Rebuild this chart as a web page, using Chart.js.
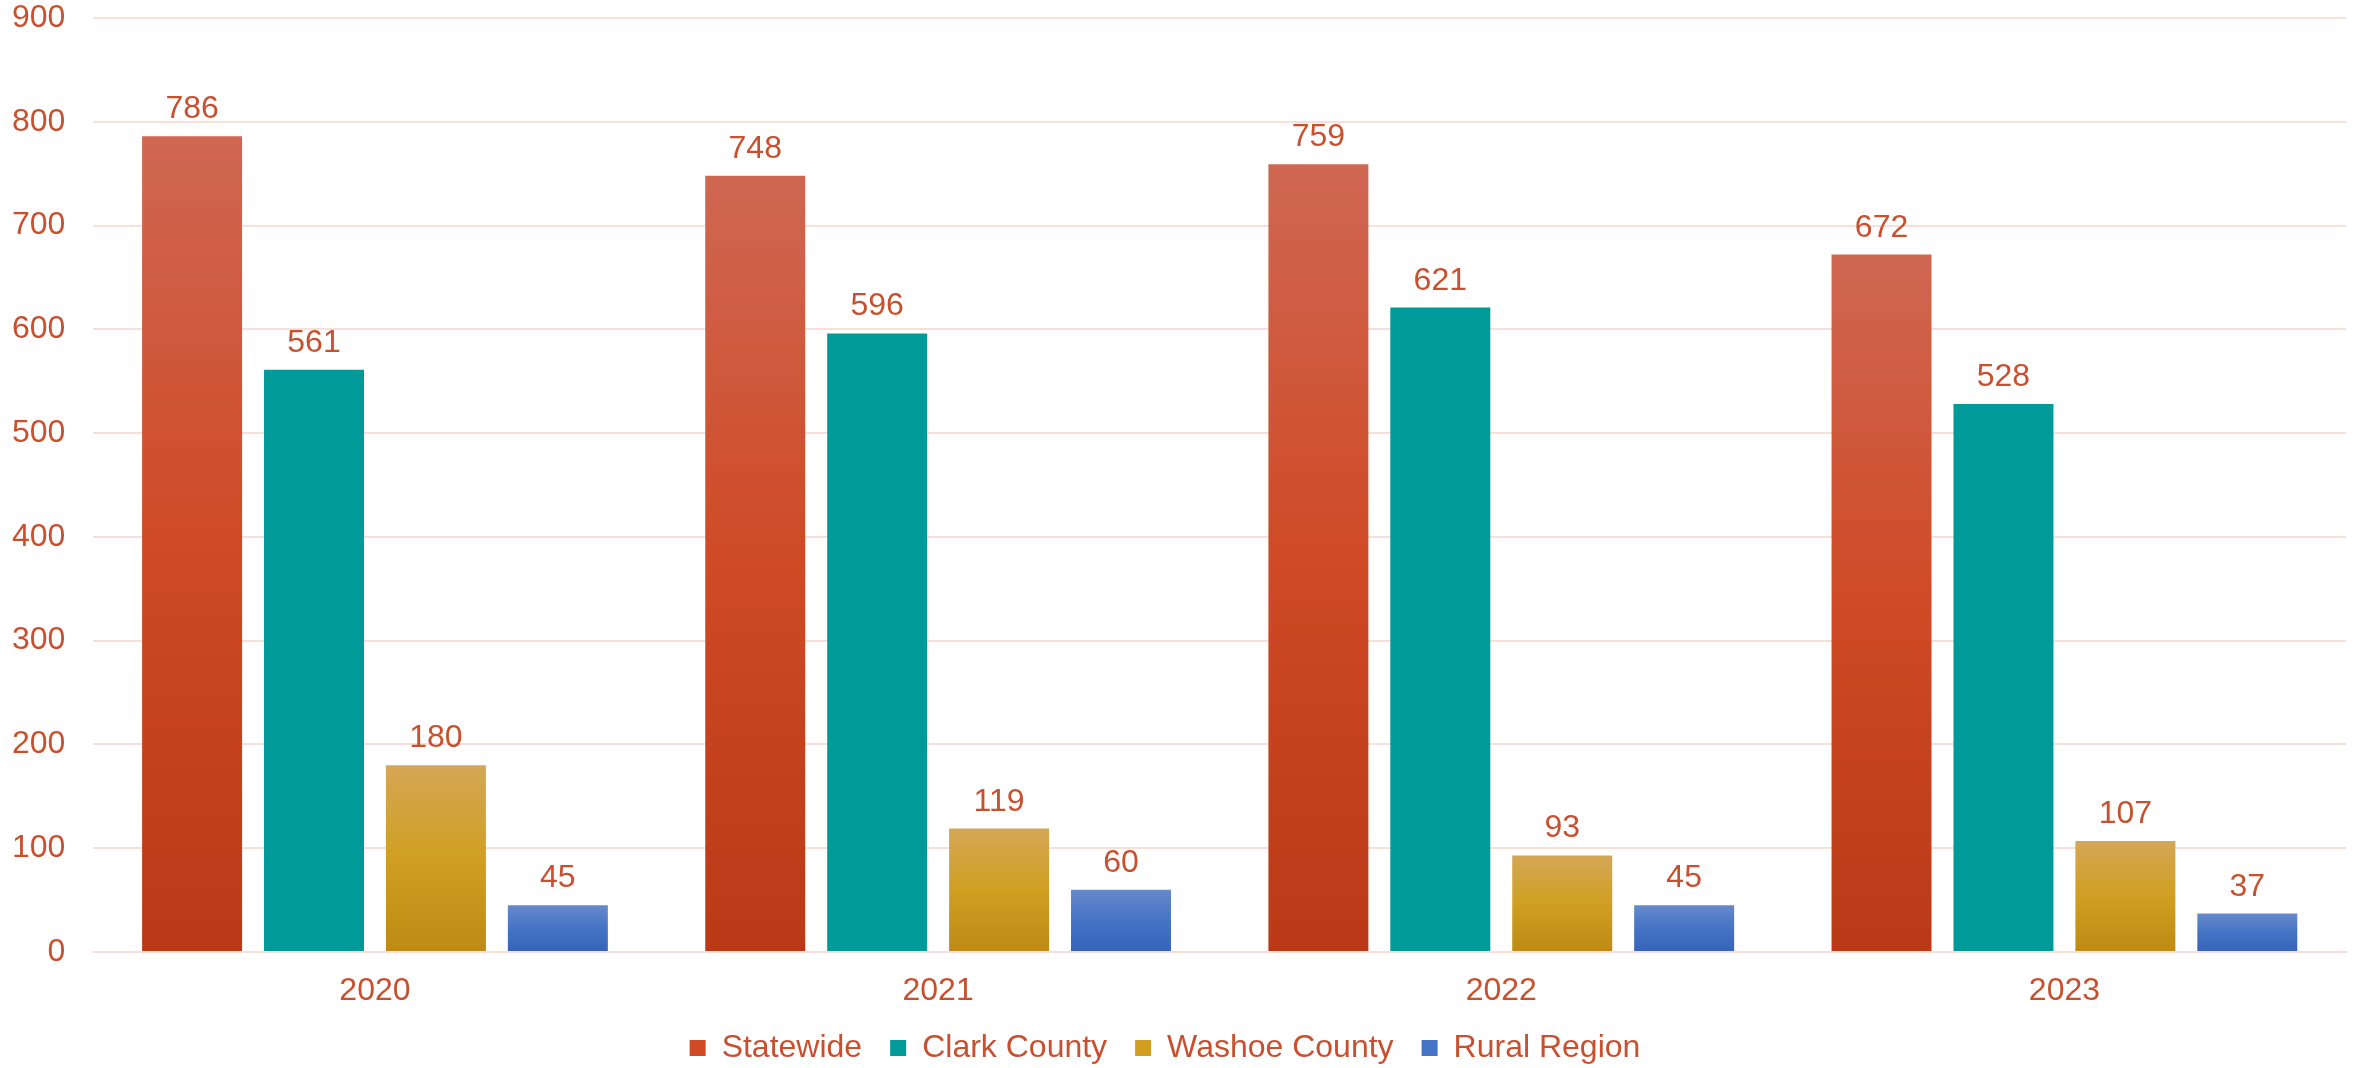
<!DOCTYPE html>
<html>
<head>
<meta charset="utf-8">
<script src="https://cdn.jsdelivr.net/npm/chart.js@4"></script>
<style>
  html, body { margin: 0; padding: 0; background: #fff; overflow: hidden; }
  canvas { display: block; }
</style>
</head>
<body>
<canvas id="chart" width="2359" height="1068"></canvas>
<script>
// Data
const years = ['2020', '2021', '2022', '2023'];
const seriesNames = ['Statewide', 'Clark County', 'Washoe County', 'Rural Region'];
const statewide = [786, 748, 759, 672];
const clark = [561, 596, 621, 528];
const washoe = [180, 119, 93, 107];
const rural = [45, 60, 45, 37];
const yTicks = [0, 100, 200, 300, 400, 500, 600, 700, 800, 900];

const textColor = '#C8502E';
const gridColor = '#F8E0D9';
const fontFamily = '"Liberation Sans", Arial, sans-serif';
const fontSize = 32;

// gradient stops per series (top, middle, bottom)
const stops = [
    ['#CF6753', '#CF4A25', '#BB3917'],
    ['#009A98', '#009A98', '#009A98'],
    ['#D4A755', '#D09F22', '#BD8A13'],
    ['#6789CC', '#4573C5', '#3563B7']
];

function barFill(idx) {
    return function (ctx) {
        const chart = ctx.chart;
        if (!chart.chartArea || ctx.type !== 'data') return stops[idx][1];
        const y = chart.scales.y;
        const top = y.getPixelForValue(ctx.raw);
        const bottom = y.getPixelForValue(0);
        if (!isFinite(top) || !isFinite(bottom) || top === bottom) return stops[idx][1];
        const g = chart.ctx.createLinearGradient(0, top, 0, bottom);
        g.addColorStop(0, stops[idx][0]);
        g.addColorStop(0.5, stops[idx][1]);
        g.addColorStop(1, stops[idx][2]);
        return g;
    };
}

// Value labels above bars
const valueLabels = {
    id: 'valueLabels',
    afterDatasetsDraw(chart) {
        const ctx = chart.ctx;
        ctx.save();
        ctx.font = fontSize + 'px ' + fontFamily;
        ctx.fillStyle = textColor;
        ctx.textAlign = 'center';
        ctx.textBaseline = 'alphabetic';
        chart.data.datasets.forEach((ds, i) => {
            const meta = chart.getDatasetMeta(i);
            meta.data.forEach((bar, j) => {
                ctx.fillText(String(ds.data[j]), bar.x, bar.y - 18);
            });
        });
        ctx.restore();
    }
};

const seriesData = [statewide, clark, washoe, rural];

new Chart(document.getElementById('chart').getContext('2d'), {
    type: 'bar',
    data: {
        labels: years,
        datasets: seriesNames.map((name, i) => ({
            label: name,
            data: seriesData[i],
            backgroundColor: barFill(i),
            borderWidth: 0,
            categoryPercentage: 0.866,
            barPercentage: 0.82
        }))
    },
    options: {
        responsive: false,
        maintainAspectRatio: false,
        devicePixelRatio: 1,
        animation: false,
        layout: { padding: { left: -16, right: 13, top: 18, bottom: -6 } },
        scales: {
            x: {
                grid: { display: false, drawTicks: false },
                border: { display: true, color: gridColor, width: 2 },
                ticks: { color: textColor, font: { size: fontSize, family: fontFamily, lineHeight: 1 }, padding: 23 },
                afterFit: axis => { axis.height = 52; }
            },
            y: {
                min: 0,
                max: 900,
                afterBuildTicks: axis => { axis.ticks = yTicks.map(v => ({ value: v })); },
                afterFit: axis => { axis.paddingTop = 0; axis.paddingBottom = 0; },
                grid: { color: gridColor, lineWidth: 2, drawTicks: false },
                border: { display: false },
                ticks: { color: textColor, font: { size: fontSize, family: fontFamily }, padding: 28 }
            }
        },
        plugins: {
            legend: {
                position: 'bottom',
                labels: {
                    color: textColor,
                    font: { size: fontSize, family: fontFamily },
                    boxWidth: 16,
                    boxHeight: 16,
                    padding: 28,
                    generateLabels: chart => seriesNames.map((name, i) => ({
                        text: name,
                        fillStyle: stops[i][1],
                        strokeStyle: 'transparent',
                        lineWidth: 0,
                        fontColor: textColor,
                        datasetIndex: i
                    }))
                }
            },
            tooltip: { enabled: false }
        }
    },
    plugins: [valueLabels]
});
</script>
</body>
</html>
